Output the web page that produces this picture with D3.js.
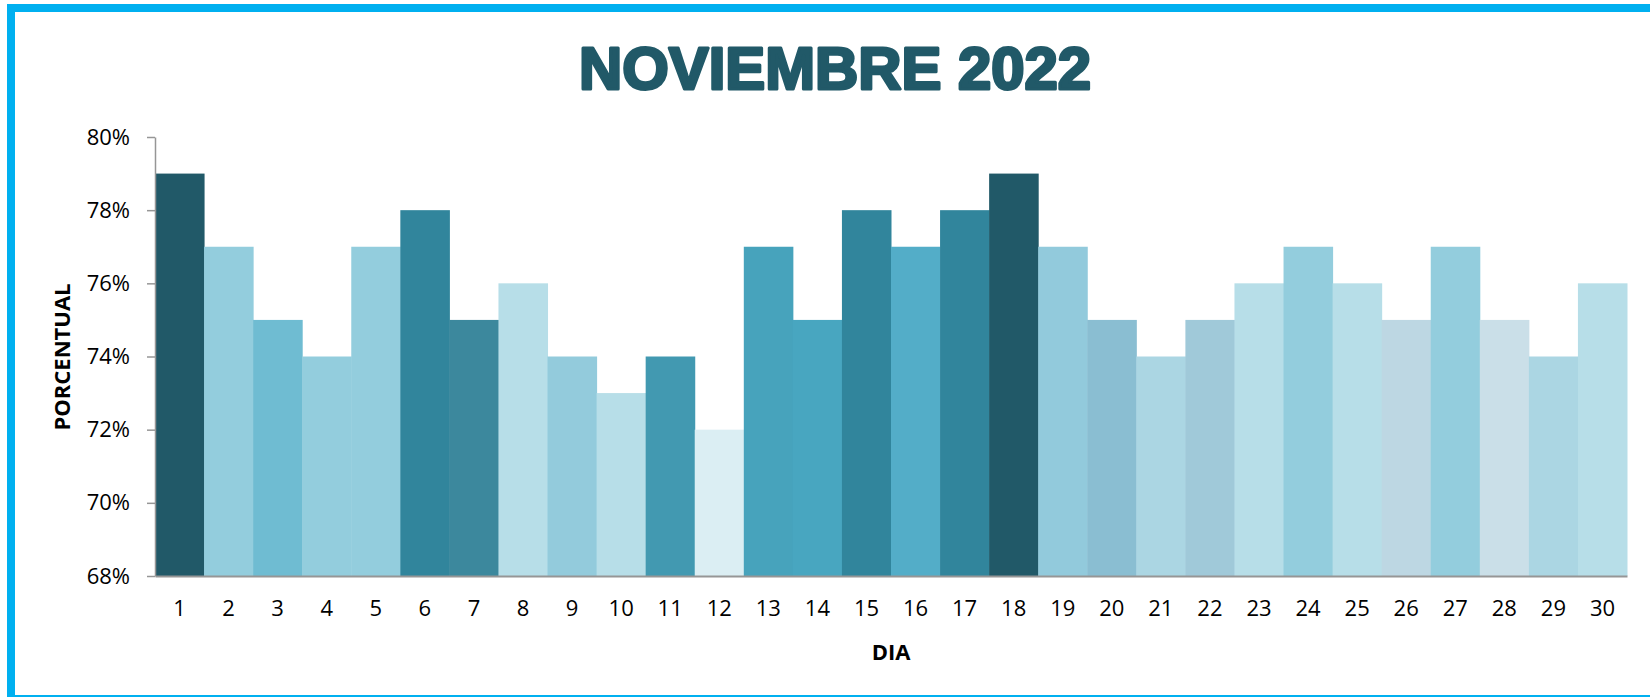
<!DOCTYPE html>
<html><head><meta charset="utf-8">
<script src="https://cdn.jsdelivr.net/npm/d3@7"></script>
<style>
html,body{margin:0;padding:0;background:#fff;overflow:hidden;}
svg{display:block;}
</style></head>
<body>
<script>
const days = d3.range(1, 31).map(String);
const values = [79,77,75,74,77,78,75,76,74,73,74,72,77,75,78,77,78,79,77,75,74,75,76,77,76,75,77,75,74,76];
const barColors = ["#215968","#93CDDD","#6FBCD2","#93CDDD","#93CDDD","#31859C","#3C889D","#B7DEE8","#93CBDC","#B7DEE8",
  "#4299B1","#DBEEF3","#47A3BC","#48A6C0","#31859C","#53ADC8","#31859C","#215968","#92CADC","#8ABED2",
  "#ABD6E3","#A0C9D9","#B7DEE8","#93CDDD","#B7DEE8","#BDD7E3","#93CDDD","#CADFE8","#ABD6E3","#B7DEE8"];
const yTicks = [68,70,72,74,76,78,80];
const title = "NOVIEMBRE 2022";
const xTitle = "DIA";
const yTitle = "PORCENTUAL";

(function(){
const W = 1650, H = 697;
const svg = d3.select("body").append("svg").attr("width", W).attr("height", H);

// frame
svg.append("rect").attr("x", 11).attr("y", 8).attr("width", 1700).attr("height", 691)
  .attr("fill", "#fff").attr("stroke", "#00B0F0").attr("stroke-width", 8);

const pL = 155, pR = 1627, pT = 137, pB = 576;
const x = d3.scaleBand().domain(days).range([pL, pR]).padding(0);
const y = d3.scaleLinear().domain([68, 80]).range([pB, pT]);

svg.append("g").selectAll("rect").data(values).join("rect")
  .attr("x", (d, i) => x(days[i]))
  .attr("y", d => y(d))
  .attr("width", x.bandwidth() + 0.5)
  .attr("height", d => y(68) - y(d))
  .attr("fill", (d, i) => barColors[i]);

const font = "'Open Sans', sans-serif";

const yAxis = svg.append("g").attr("transform", `translate(${pL},0)`)
  .call(d3.axisLeft(y).tickValues(yTicks).tickFormat(d => d + "%").tickSize(8).tickSizeOuter(0).tickPadding(17));
yAxis.select(".domain").attr("stroke", "#969696").attr("stroke-width", 1.5);
yAxis.selectAll(".tick line").attr("stroke", "#969696").attr("stroke-width", 1.5);
yAxis.selectAll(".tick text").attr("font-family", font).attr("font-size", 22).attr("fill", "#000");

const xAxis = svg.append("g").attr("transform", `translate(0,${pB})`)
  .call(d3.axisBottom(x).tickSize(0).tickPadding(24));
xAxis.select(".domain").attr("stroke", "#969696").attr("stroke-width", 2);
xAxis.selectAll(".tick text").attr("font-family", font).attr("font-size", 22).attr("fill", "#000");

svg.append("text").attr("x", 835).attr("y", 89)
  .attr("text-anchor", "middle")
  .attr("font-family", "'Liberation Sans', Arial, sans-serif").attr("font-weight", "bold").attr("font-size", 60)
  .attr("textLength", 512).attr("lengthAdjust", "spacingAndGlyphs")
  .attr("fill", "#215968").attr("stroke", "#215968").attr("stroke-width", 3).attr("stroke-linejoin", "round")
  .text(title);

svg.append("text").attr("x", (pL + pR) / 2).attr("y", 660)
  .attr("text-anchor", "middle").attr("font-family", font).attr("font-weight", "bold").attr("font-size", 22)
  .attr("fill", "#000").text(xTitle);

svg.append("text").attr("transform", `translate(70,357) rotate(-90)`)
  .attr("text-anchor", "middle").attr("font-family", font).attr("font-weight", "bold").attr("font-size", 22)
  .attr("fill", "#000").text(yTitle);
})();
</script>
</body></html>
